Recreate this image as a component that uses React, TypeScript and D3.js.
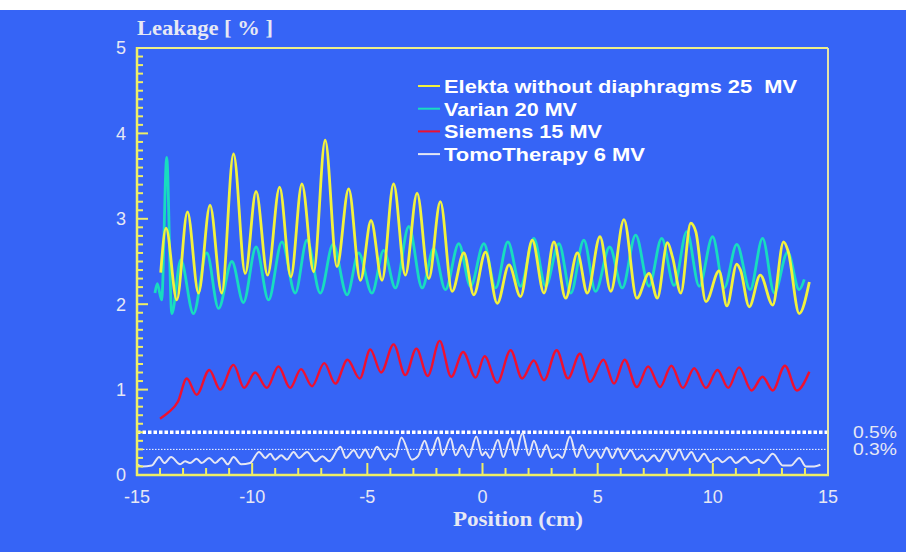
import React from 'react';
import * as d3 from 'd3';

const xTickLabels = [-15, -10, -5, 0, 5, 10, 15];
const yTickLabels = [0, 1, 2, 3, 4, 5];
const seriesNames = ['Elekta without diaphragms 25  MV', 'Varian 20 MV', 'Siemens 15 MV', 'TomoTherapy 6 MV'];
const seriesColors = ['#f2f23c', '#18dcc0', '#ee1030', '#e4e6f4'];
const thresholds = [0.5, 0.3];
const thresholdLabels = ['0.5%', '0.3%'];

const elekta: [number, number][] = [
  [-13.97, 2.37], [-13.74, 2.89], [-13.27, 2.05], [-12.81, 3.08], [-12.33, 2.13], [-11.83, 3.16], [-11.32, 2.13],
  [-10.81, 3.76], [-10.3, 2.36], [-9.83, 3.32], [-9.33, 2.34], [-8.81, 3.37], [-8.32, 2.32], [-7.84, 3.41],
  [-7.33, 2.38], [-6.83, 3.92], [-6.32, 2.44], [-5.81, 3.35], [-5.3, 2.28], [-4.84, 2.98], [-4.36, 2.28],
  [-3.86, 3.41], [-3.35, 2.34], [-2.84, 3.3], [-2.33, 2.3], [-1.83, 3.2], [-1.32, 2.15], [-0.81, 2.6],
  [-0.38, 2.11], [0.13, 2.61], [0.64, 2.01], [1.15, 2.46], [1.65, 2.09], [2.16, 2.75], [2.67, 2.13],
  [3.1, 2.73], [3.61, 2.07], [4.12, 2.6], [4.55, 2.13], [5.1, 2.79], [5.57, 2.15], [6.14, 2.99], [6.7, 2.07],
  [7.23, 2.36], [7.59, 2.07], [8.03, 2.72], [8.25, 2.55], [8.61, 2.13], [9.04, 2.95], [9.26, 2.85], [9.7, 2.03],
  [10.27, 2.39], [10.61, 1.98], [11.04, 2.47], [11.2, 2.4], [11.58, 1.97], [12.06, 2.34], [12.6, 1.99],
  [13.07, 2.73], [13.27, 2.62], [13.75, 1.89], [14.19, 2.26],
];

const varian: [number, number][] = [
  [-14.22, 2.13], [-14.12, 2.24], [-13.93, 2.05], [-13.71, 3.72], [-13.49, 1.89], [-13.1, 2.52], [-12.55, 1.89],
  [-11.97, 2.6], [-11.46, 1.95], [-10.88, 2.5], [-10.38, 2.02], [-9.83, 2.67], [-9.29, 2.05], [-8.71, 2.73],
  [-8.13, 2.13], [-7.62, 2.75], [-7.04, 2.13], [-6.49, 2.7], [-5.88, 2.11], [-5.38, 2.6], [-4.8, 2.13],
  [-4.29, 2.63], [-3.78, 2.19], [-3.2, 2.91], [-2.62, 2.19], [-2.12, 2.65], [-1.61, 2.17], [-1.03, 2.71],
  [-0.52, 2.21], [0.06, 2.71], [0.57, 2.19], [1.1, 2.73], [1.65, 2.21], [2.23, 2.77], [2.74, 2.21],
  [3.32, 2.71], [3.83, 2.13], [4.4, 2.75], [4.91, 2.15], [5.52, 2.67], [6.07, 2.19], [6.65, 2.81],
  [7.23, 2.21], [7.78, 2.77], [8.32, 2.22], [8.87, 2.85], [9.41, 2.21], [9.99, 2.79], [10.49, 2.19],
  [11.04, 2.7], [11.62, 2.17], [12.16, 2.77], [12.67, 2.13], [13.25, 2.61], [13.75, 2.17], [13.97, 2.29],
];

const siemens: [number, number][] = [
  [-14.0, 0.66], [-13.65, 0.73], [-13.22, 0.86], [-12.84, 1.13], [-12.41, 0.94], [-11.86, 1.23], [-11.39, 1.0],
  [-10.81, 1.29], [-10.35, 1.02], [-9.87, 1.2], [-9.36, 1.02], [-8.86, 1.27], [-8.35, 1.02], [-7.88, 1.24],
  [-7.4, 1.04], [-6.87, 1.31], [-6.39, 1.07], [-5.86, 1.35], [-5.33, 1.13], [-4.87, 1.47], [-4.4, 1.2],
  [-3.86, 1.53], [-3.35, 1.17], [-2.87, 1.48], [-2.38, 1.16], [-1.86, 1.57], [-1.36, 1.15], [-0.84, 1.44],
  [-0.3, 1.14], [0.09, 1.39], [0.64, 1.08], [1.22, 1.46], [1.72, 1.13], [2.23, 1.34], [2.67, 1.11],
  [3.22, 1.46], [3.71, 1.13], [4.23, 1.42], [4.67, 1.09], [5.25, 1.35], [5.71, 1.07], [6.17, 1.35],
  [6.7, 1.03], [7.19, 1.27], [7.71, 1.03], [8.2, 1.28], [8.7, 1.02], [9.19, 1.25], [9.7, 1.02], [10.2, 1.23],
  [10.67, 1.02], [11.14, 1.26], [11.68, 0.99], [12.16, 1.15], [12.6, 0.99], [13.13, 1.28], [13.65, 0.99],
  [14.19, 1.21],
];

const tomo: [number, number][] = [
  [-15.0, 0.125], [-14.78, 0.1], [-14.36, 0.11], [-14.04, 0.21], [-13.81, 0.14], [-13.52, 0.21], [-13.13, 0.125],
  [-12.91, 0.16], [-12.7, 0.14], [-12.41, 0.19], [-12.19, 0.14], [-11.87, 0.2], [-11.61, 0.14], [-11.32, 0.2],
  [-11.06, 0.125], [-10.81, 0.21], [-10.48, 0.125], [-10.09, 0.14], [-9.7, 0.27], [-9.43, 0.2], [-9.22, 0.25],
  [-9.0, 0.18], [-8.74, 0.23], [-8.49, 0.18], [-8.2, 0.27], [-7.96, 0.2], [-7.62, 0.27], [-7.25, 0.16],
  [-6.95, 0.22], [-6.65, 0.16], [-6.17, 0.33], [-5.93, 0.2], [-5.59, 0.29], [-5.35, 0.2], [-5.09, 0.3],
  [-4.87, 0.2], [-4.58, 0.33], [-4.22, 0.18], [-4.0, 0.25], [-3.8, 0.21], [-3.52, 0.44], [-3.06, 0.18],
  [-2.8, 0.22], [-2.51, 0.4], [-2.26, 0.23], [-1.93, 0.44], [-1.73, 0.23], [-1.39, 0.43], [-1.17, 0.23],
  [-0.88, 0.35], [-0.59, 0.21], [-0.27, 0.45], [-0.01, 0.23], [0.13, 0.27], [0.32, 0.2], [0.67, 0.41],
  [0.9, 0.21], [1.22, 0.43], [1.43, 0.23], [1.73, 0.49], [2.01, 0.23], [2.23, 0.4], [2.52, 0.21], [2.78, 0.35],
  [3.03, 0.2], [3.27, 0.24], [3.46, 0.2], [3.8, 0.45], [4.09, 0.21], [4.33, 0.35], [4.62, 0.2], [4.91, 0.29],
  [5.13, 0.2], [5.39, 0.32], [5.64, 0.2], [5.88, 0.31], [6.14, 0.19], [6.43, 0.29], [6.7, 0.18], [6.94, 0.23],
  [7.13, 0.16], [7.45, 0.23], [7.67, 0.16], [8.0, 0.29], [8.25, 0.18], [8.54, 0.3], [8.78, 0.18], [9.07, 0.27],
  [9.33, 0.16], [9.62, 0.25], [9.91, 0.15], [10.2, 0.2], [10.42, 0.15], [10.75, 0.21], [11.0, 0.14],
  [11.39, 0.21], [11.65, 0.14], [11.97, 0.18], [12.2, 0.14], [12.6, 0.25], [13.05, 0.11], [13.39, 0.11],
  [13.75, 0.2], [14.04, 0.1], [14.4, 0.1], [14.67, 0.12],
];

const W = 906;
const H = 552;
const L = 137, R = 828, T = 48, B = 475;
const legendWidths = [353, 133, 158, 201];

export default function App() {
  const x = d3.scaleLinear().domain([-15, 15]).range([L, R]);
  const y = d3.scaleLinear().domain([0, 5]).range([B, T]);
  const line = d3.line<[number, number]>().x(d => x(d[0])).y(d => y(d[1])).curve(d3.curveMonotoneX);

  const yMinor = d3.range(0, 50).map(i => i / 10);
  const xMinor = d3.range(-14, 15);
  const axisCol = '#eeee66';
  const textCol = '#e6e8f4';
  const sans = '"Liberation Sans", Arial, sans-serif';
  const serif = '"Liberation Serif", "DejaVu Serif", serif';

  const series = [
    { data: varian, color: seriesColors[1], w: 2.8 },
    { data: elekta, color: seriesColors[0], w: 2.8 },
    { data: siemens, color: seriesColors[2], w: 2.4 },
    { data: tomo, color: seriesColors[3], w: 2 },
  ];

  return (
    <svg width={W} height={H} style={{ position: 'absolute', left: 0, top: 0 }}>
      <rect x={0} y={0} width={W} height={H} fill="#ffffff" />
      <rect x={0} y={10} width={W} height={H - 10} fill="#3664f6" />

      {/* threshold lines */}
      <line x1={L} x2={R} y1={y(thresholds[0])} y2={y(thresholds[0])} stroke="#ffffff" strokeWidth={3.5} strokeDasharray="3.5 2" />
      <line x1={L} x2={R - 2} y1={y(thresholds[1])} y2={y(thresholds[1])} stroke="#ffffff" strokeWidth={1} strokeDasharray="1.5 1.5" />

      {/* series */}
      {series.map((s, i) => (
        <path key={i} d={line(s.data) || ''} fill="none" stroke={s.color} strokeWidth={s.w} strokeLinejoin="round" />
      ))}

      {/* frame */}
      <line x1={L} x2={R} y1={T} y2={T} stroke="#eeee88" strokeWidth={2} />
      <line x1={R} x2={R} y1={T} y2={B} stroke="#e4e4a8" strokeWidth={2} />
      <line x1={L} x2={L} y1={T - 1} y2={B + 1} stroke={axisCol} strokeWidth={2.5} />
      <line x1={L - 1} x2={R + 1} y1={B} y2={B} stroke={axisCol} strokeWidth={2.5} />

      {/* y ticks */}
      {yMinor.map((v, i) => (
        <line key={'yt' + i} x1={L} x2={L + (i % 10 === 0 ? 11 : 6)} y1={y(v)} y2={y(v)} stroke={axisCol} strokeWidth={2} />
      ))}
      {/* x ticks */}
      {xMinor.map((v, i) => (
        <line key={'xt' + i} x1={x(v)} x2={x(v)} y1={B} y2={B - (v % 5 === 0 ? 12 : 7)} stroke={axisCol} strokeWidth={2} />
      ))}

      {/* tick labels */}
      {yTickLabels.map(v => (
        <text key={'yl' + v} x={126} y={y(v)} dy="0.36em" textAnchor="end" fill={textCol}
          style={{ font: `18px ${sans}` }}>{v}</text>
      ))}
      {xTickLabels.map(v => (
        <text key={'xl' + v} x={x(v)} y={503} textAnchor="middle" fill={textCol}
          style={{ font: `18px ${sans}` }}>{v}</text>
      ))}

      {/* titles */}
      <text x={137} y={35} fill={textCol} textLength={136} lengthAdjust="spacingAndGlyphs"
        style={{ font: `bold 21px ${serif}` }}>Leakage [ % ]</text>
      <text x={453} y={526} fill={textCol} textLength={130} lengthAdjust="spacingAndGlyphs"
        style={{ font: `bold 20px ${serif}` }}>Position (cm)</text>

      {/* threshold labels */}
      {thresholdLabels.map((t, i) => (
        <text key={'th' + i} x={853} y={y(thresholds[i])} dy="0.36em" fill={textCol} textLength={44} lengthAdjust="spacingAndGlyphs"
          style={{ font: `16px ${sans}` }}>{t}</text>
      ))}

      {/* legend */}
      {seriesNames.map((n, i) => {
        const ly = 86 + i * 22.7;
        return (
          <g key={'lg' + i}>
            <line x1={418} x2={440} y1={ly} y2={ly} stroke={seriesColors[i]} strokeWidth={2} />
            <text x={444} y={ly} dy="0.36em" fill="#ffffff" textLength={legendWidths[i]} lengthAdjust="spacingAndGlyphs"
              style={{ font: `bold 19px ${sans}`, whiteSpace: 'pre' }}>{n}</text>
          </g>
        );
      })}
    </svg>
  );
}
